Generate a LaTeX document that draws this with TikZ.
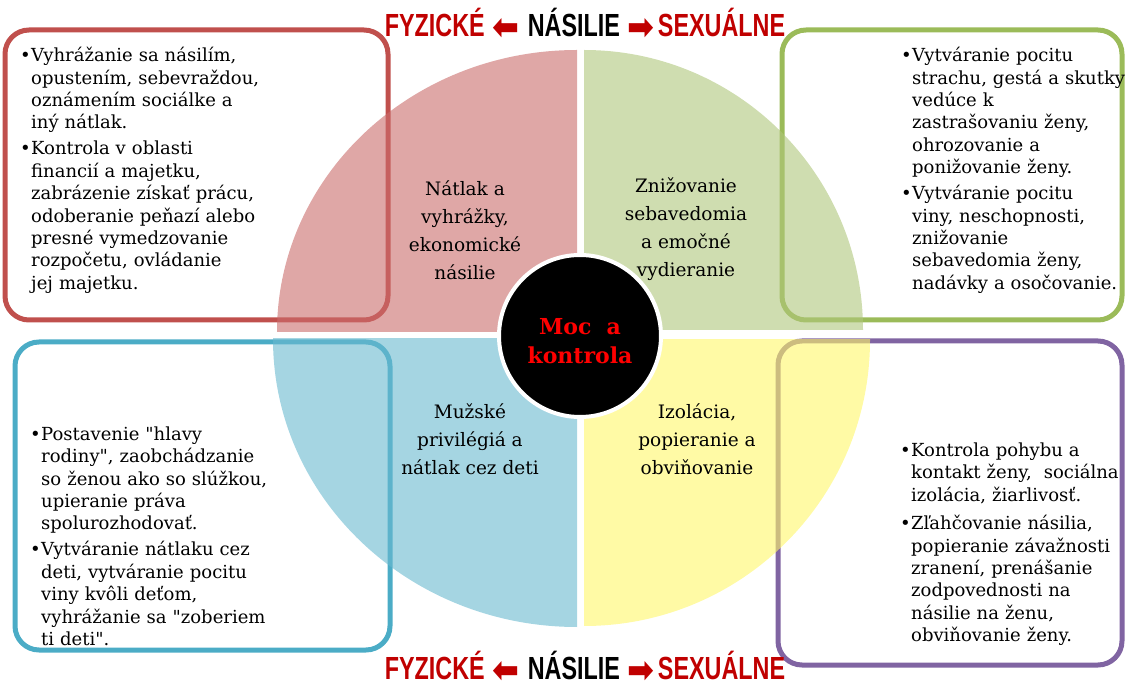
\documentclass[tikz,border=0pt]{standalone}
\usepackage{graphicx}
\usepackage{fontspec}
\setmainfont{DejaVu Serif}
\newfontfamily\titlefont[FakeStretch=0.73]{Liberation Sans}
\newfontfamily\symfont{DejaVu Sans}
\definecolor{cred}{RGB}{192,80,77}
\definecolor{cgreen}{RGB}{155,187,89}
\definecolor{cblue}{RGB}{75,172,198}
\definecolor{cpurple}{RGB}{128,100,162}
\definecolor{qpink}{RGB}{202,108,107}
\definecolor{qgreen}{RGB}{175,198,123}
\definecolor{qblue}{RGB}{105,185,207}
\definecolor{qyellow}{RGB}{255,247,105}
\definecolor{tred}{RGB}{192,0,0}
\newcommand\bitem{\par\noindent\hangindent=11pt\hangafter=1\makebox[11pt][l]{•}}
\newcommand\arrR{\raisebox{-3pt}{\resizebox{27pt}{21pt}{\symfont ➡}}}
\newcommand\arrL{\reflectbox{\arrR}}
\newcommand\titletext{{\color{tred}FYZICKÉ\hspace{8pt}\arrL}\hspace{8pt}NÁSILIE\hspace{8pt}{\color{tred}\arrR\hspace{3pt}SEXUÁLNE}}
\begin{document}
\begin{tikzpicture}[x=1pt,y=-1pt,
  tbox/.style={draw=#1, line width=5pt, rounded corners=24pt, inner sep=0pt},
  btext/.style={anchor=west, inner sep=0pt, text width=330pt, align=left,
    font=\fontsize{18}{22.4}\selectfont},
  qtext/.style={align=center, inner sep=0pt, font=\fontsize{18.5}{28}\selectfont},
  ttext/.style={anchor=base, inner sep=0pt, font=\titlefont\bfseries\fontsize{32}{36}\selectfont},
  qfill/.style={fill=#1, fill opacity=0.6}]
\useasboundingbox (0,0) rectangle (1125,684);
% boxes
\node[tbox=cred, minimum width=383pt, minimum height=290pt] (rbox) at (196.5,175) {};
\node[tbox=cgreen, minimum width=340pt, minimum height=290pt] (gbox) at (952,175) {};
\node[tbox=cblue, minimum width=375pt, minimum height=308pt] (bbox) at (202.5,496) {};
\node[tbox=cpurple, minimum width=344pt, minimum height=324pt] (pbox) at (950,503) {};
% quadrants
\begin{scope}
  \clip (0,0) rectangle (577,332);
  \fill[qfill=qpink] (577,332) ellipse [x radius=300, y radius=282];
\end{scope}
\begin{scope}
  \clip (584,0) rectangle (1125,330);
  \fill[qfill=qgreen] (584,330) ellipse [x radius=279, y radius=280];
\end{scope}
\begin{scope}
  \clip (0,339) rectangle (577,684);
  \fill[qfill=qblue] (577,339) ellipse [x radius=304, y radius=288];
\end{scope}
\begin{scope}
  \clip (584,340) rectangle (1125,684);
  \fill[qfill=qyellow] (584,340) ellipse [x radius=286, y radius=286];
\end{scope}
% quadrant labels
\node[qtext] (q1) at (465,230) {Nátlak a\\vyhrážky,\\ekonomické\\násilie};
\node[qtext] (q2) at (686,229) {Znižovanie\\sebavedomia\\a emočné\\vydieranie};
\node[qtext] (q3) at (470,439) {Mužské\\privilégiá a\\nátlak cez deti};
\node[qtext] (q4) at (697,439) {Izolácia,\\popieranie a\\obviňovanie};
% centre
\node[circle, fill=black, draw=white, line width=4pt, minimum size=162pt, inner sep=0pt] (mc) at (580,336) {};
\node[align=center, inner sep=0pt, text=red, font=\bfseries\fontsize{22}{29}\selectfont] (mct) at (580,341.5) {Moc\ \ a\\kontrola};
% box texts
\node[btext] (rtxt) at (20,164.5) {\setlength\parskip{3.6pt}%
\bitem Vyhrážanie sa násilím,\newline opustením, sebevraždou,\newline oznámením sociálke a\newline iný nátlak.%
\bitem Kontrola v oblasti\newline financií a majetku,\newline zabrázenie získať prácu,\newline odoberanie peňazí alebo\newline presné vymedzovanie\newline rozpočetu, ovládanie\newline jej majetku.\par};
\node[btext] (gtxt) at (901,164.5) {\setlength\parskip{3.6pt}%
\bitem Vytváranie pocitu\newline strachu, gestá a skutky\newline vedúce k\newline zastrašovaniu ženy,\newline ohrozovanie a\newline ponižovanie ženy.%
\bitem Vytváranie pocitu\newline viny, neschopnosti,\newline znižovanie\newline sebavedomia ženy,\newline nadávky a osočovanie.\par};
\node[btext] (btxt) at (30,530) {\setlength\parskip{3.6pt}%
\bitem Postavenie \textquotedbl hlavy\newline rodiny\textquotedbl, zaobchádzanie\newline so ženou ako so slúžkou,\newline upieranie práva\newline spolurozhodovať.%
\bitem Vytváranie nátlaku cez\newline deti, vytváranie pocitu\newline viny kvôli deťom,\newline vyhrážanie sa \textquotedbl zoberiem\newline ti deti\textquotedbl.\par};
\node[btext] (ptxt) at (900,537) {\setlength\parskip{6pt}%
\bitem Kontrola pohybu a\newline kontakt ženy,\ \ sociálna\newline izolácia, žiarlivosť.%
\bitem Zľahčovanie násilia,\newline popieranie závažnosti\newline zranení, prenášanie\newline zodpovednosti na\newline násilie na ženu,\newline obviňovanie ženy.\par};
% titles
\node[ttext] (ttop) at (585,37) {\titletext};
\node[ttext] (tbot) at (585,679) {\titletext};
\end{tikzpicture}
\end{document}
